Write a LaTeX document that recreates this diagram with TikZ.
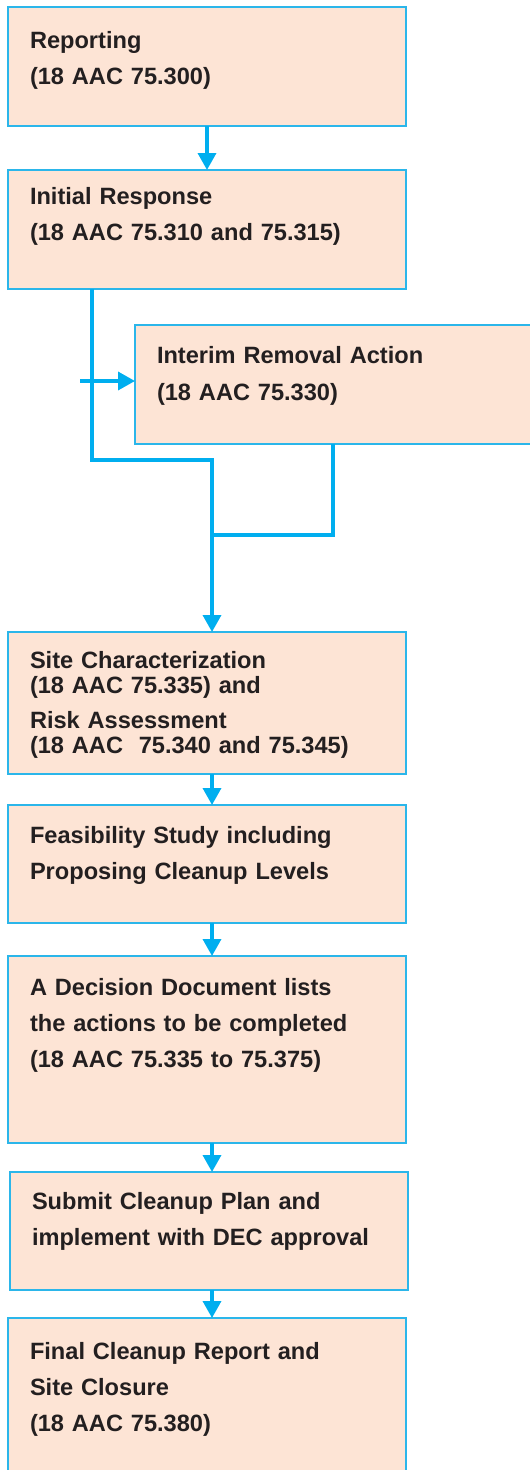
\documentclass[tikz,border=0pt]{standalone}
\usepackage{fontspec}
\setmainfont{Liberation Sans}
\usetikzlibrary{
  arrows.meta,
  positioning
}
\definecolor{boxfill}{HTML}{FDE4D5}
\definecolor{boxline}{HTML}{2BB6EA}
\definecolor{flowblue}{HTML}{00AEEF}
\definecolor{inktext}{HTML}{231F20}
\tikzset{%
  stage/.style={%
    draw=boxline, fill=boxfill, line width=1.3pt, outer sep=0pt,
    inner xsep=22pt, inner ysep=0pt, text width=354pt, align=left,
    text=inktext, font=\bfseries\fontsize{23.6}{36}\selectfont
  },
  flowline/.style={draw=flowblue, line width=3.5pt},
  flow/.style={flowline, -{Triangle[width=18pt,length=17pt]}}
}

\begin{document}
\begin{tikzpicture}[x=1pt, y=-1pt]
    \path[use as bounding box, clip] (0,0) rectangle (530,1470);
    \node[stage, anchor=north west, text height=41pt, text depth=78pt] (rep) at (8,7)
      {Reporting\\(18 AAC 75.300)};
    \node[stage, below right=44pt and 0pt of rep.south west, text height=34pt, text depth=85pt] (init)
      {Initial Response\\(18 AAC 75.310 and 75.315)};
    \node[stage, below right=36pt and 127pt of init.south west, text height=38pt, text depth=81pt,
      font=\bfseries\fontsize{23.6}{37}\selectfont] (interim)
      {Interim Removal Action\\(18 AAC 75.330)};
    \node[stage, below right=343pt and 0pt of init.south west, text height=36pt, text depth=106pt,
      font=\bfseries\fontsize{23.6}{25}\selectfont] (site)
      {Site Characterization\\(18 AAC 75.335) and\\[10pt]Risk Assessment\\(18 AAC\ \ 75.340 and 75.345)};
    \node[stage, below right=31pt and 0pt of site.south west, text height=38pt, text depth=80pt] (feas)
      {Feasibility Study including\\Proposing Cleanup Levels};
    \node[stage, below right=33pt and 0pt of feas.south west, text height=39pt, text depth=148pt] (dec)
      {A Decision Document lists\\the actions to be completed\\(18 AAC 75.335 to 75.375)};
    \node[stage, below right=29pt and 2pt of dec.south west, text height=37pt, text depth=81pt] (sub)
      {Submit Cleanup Plan and\\implement with DEC approval};
    \node[stage, below right=28pt and -2pt of sub.south west, text height=41pt, text depth=119pt] (final)
      {Final Cleanup Report and\\Site Closure\\(18 AAC 75.380)};
    % connectors
    \coordinate (drop) at (92,460);
    \coordinate (merge) at (212,535);
    \coordinate (feed) at (80,381);
    \draw[flow] (rep) -- (init);
    \draw[flow] (init.south -| drop) -- (drop) -| (site.north -| merge);
    \draw[flow] (feed) -- (feed -| interim.west);
    \draw[flowline] ([xshift=198pt]interim.south west) |- (merge);
    \draw[flow] (site.south -| merge) -- (feas.north -| merge);
    \draw[flow] (feas.south -| merge) -- (dec.north -| merge);
    \draw[flow] (dec.south -| merge) -- (sub.north -| merge);
    \draw[flow] (sub.south -| merge) -- (final.north -| merge);
\end{tikzpicture}
\end{document}
